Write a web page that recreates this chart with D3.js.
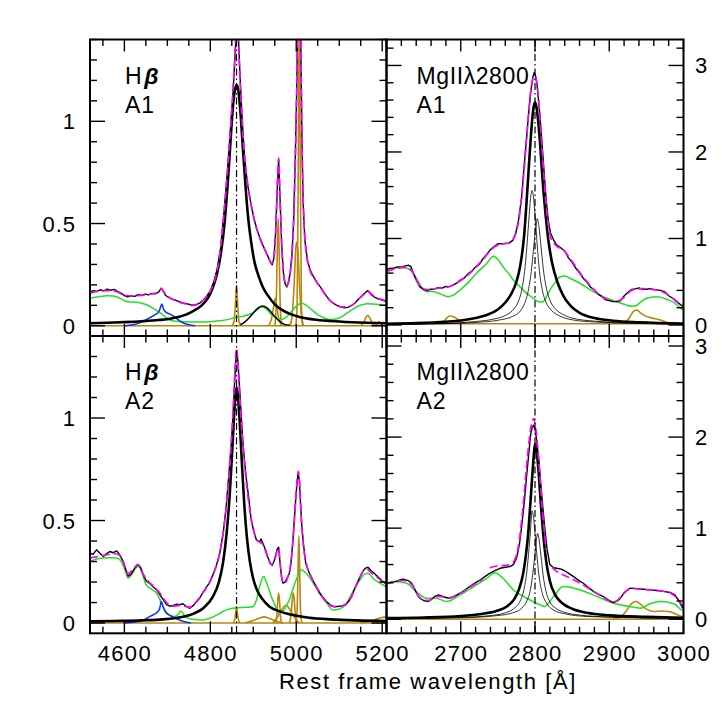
<!DOCTYPE html>
<html><head><meta charset="utf-8">
<script src="https://cdn.jsdelivr.net/npm/d3@7"></script>
<style>
body{margin:0;background:#fff}
svg{display:block}
text{font-family:"Liberation Sans",Arial,sans-serif;fill:#000}
</style>
</head><body>
<svg id="chart" width="722" height="722"></svg>
<script>
// ---------------- DATA: [wavelength (Å), flux] ----------------
// Hβ A1
const hbA1_obs = [[4520,0.165],[4528,0.172],[4536,0.168],[4544,0.176],[4552,0.171],[4560,0.179],[4568,0.174],[4576,0.178],[4584,0.168],[4592,0.160],[4600,0.148],[4608,0.141],[4616,0.147],[4624,0.144],[4632,0.152],[4640,0.148],[4648,0.155],[4656,0.151],[4664,0.158],[4672,0.156],[4680,0.166],[4686,0.184],[4690,0.170],[4696,0.148],[4704,0.138],[4712,0.130],[4720,0.124],[4728,0.118],[4736,0.112],[4744,0.108],[4752,0.104],[4760,0.101],[4768,0.104],[4776,0.112],[4784,0.126],[4792,0.146],[4800,0.172],[4808,0.214],[4816,0.278],[4824,0.380],[4832,0.560],[4840,0.760],[4846,0.940],[4852,1.110],[4856,1.260],[4860,1.420],[4863,1.520],[4866,1.380],[4870,1.180],[4875,0.980],[4880,0.820],[4886,0.700],[4892,0.625],[4898,0.560],[4904,0.505],[4910,0.462],[4916,0.425],[4922,0.395],[4928,0.368],[4934,0.340],[4940,0.312],[4944,0.298],[4948,0.330],[4952,0.460],[4956,0.680],[4959,0.810],[4962,0.640],[4966,0.400],[4970,0.260],[4974,0.205],[4978,0.190],[4982,0.215],[4986,0.260],[4990,0.350],[4994,0.520],[4998,0.850],[5001,1.150],[5004,1.600],[5007,2.100],[5010,1.500],[5013,0.950],[5016,0.600],[5020,0.420],[5026,0.320],[5032,0.275],[5040,0.240],[5048,0.212],[5056,0.190],[5064,0.165],[5072,0.140],[5080,0.120],[5088,0.108],[5096,0.098],[5104,0.092],[5112,0.088],[5120,0.090],[5128,0.098],[5136,0.110],[5144,0.128],[5152,0.145],[5160,0.160],[5166,0.172],[5170,0.165],[5176,0.148],[5184,0.138],[5192,0.130],[5200,0.126],[5210,0.118]];
const hbA1_model = [[4520,0.160],[4540,0.168],[4560,0.172],[4580,0.168],[4600,0.150],[4620,0.146],[4640,0.150],[4660,0.154],[4680,0.166],[4686,0.180],[4692,0.165],[4705,0.138],[4720,0.122],[4740,0.108],[4760,0.100],[4775,0.110],[4790,0.140],[4800,0.170],[4810,0.222],[4820,0.320],[4830,0.510],[4840,0.760],[4848,1.000],[4854,1.200],[4858,1.360],[4861,1.520],[4864,1.450],[4868,1.260],[4874,1.000],[4880,0.820],[4888,0.680],[4896,0.580],[4905,0.495],[4915,0.430],[4925,0.380],[4935,0.335],[4942,0.305],[4947,0.320],[4952,0.450],[4956,0.700],[4959,0.820],[4962,0.650],[4966,0.400],[4971,0.240],[4976,0.195],[4981,0.205],[4986,0.260],[4991,0.380],[4996,0.650],[5001,1.150],[5004,1.700],[5007,2.200],[5010,1.600],[5013,0.950],[5017,0.560],[5022,0.380],[5030,0.285],[5045,0.222],[5060,0.175],[5075,0.130],[5090,0.105],[5105,0.092],[5120,0.092],[5135,0.108],[5150,0.140],[5160,0.158],[5166,0.168],[5172,0.160],[5185,0.138],[5200,0.128],[5210,0.122]];
const hbA1_broad = [[4520,0.012],[4560,0.015],[4600,0.018],[4640,0.022],[4680,0.028],[4710,0.036],[4740,0.052],[4760,0.072],[4780,0.100],[4795,0.138],[4805,0.182],[4815,0.250],[4825,0.360],[4833,0.500],[4840,0.680],[4846,0.870],[4851,1.030],[4855,1.120],[4858,1.160],[4861,1.177],[4864,1.165],[4867,1.120],[4871,1.020],[4876,0.860],[4882,0.680],[4888,0.530],[4895,0.410],[4903,0.310],[4912,0.245],[4922,0.190],[4935,0.145],[4950,0.105],[4965,0.080],[4985,0.058],[5010,0.042],[5040,0.031],[5080,0.023],[5130,0.017],[5210,0.012]];
const hbA1_bump = [[4870,0.005],[4880,0.018],[4890,0.038],[4900,0.062],[4910,0.085],[4921,0.097],[4932,0.088],[4942,0.065],[4952,0.040],[4962,0.020],[4972,0.007],[4985,0.002]];
const hbA1_feii = [[4520,0.134],[4540,0.142],[4560,0.147],[4575,0.146],[4590,0.134],[4605,0.119],[4620,0.116],[4636,0.113],[4650,0.104],[4665,0.088],[4680,0.068],[4695,0.044],[4706,0.028],[4720,0.022],[4740,0.020],[4760,0.018],[4780,0.018],[4800,0.020],[4820,0.024],[4840,0.030],[4857,0.040],[4875,0.046],[4890,0.055],[4905,0.072],[4915,0.088],[4921,0.092],[4930,0.083],[4942,0.055],[4953,0.040],[4965,0.030],[4975,0.040],[4985,0.060],[4995,0.085],[5005,0.104],[5012,0.110],[5022,0.102],[5035,0.080],[5050,0.055],[5065,0.038],[5080,0.030],[5095,0.034],[5110,0.050],[5125,0.072],[5140,0.092],[5155,0.104],[5165,0.108],[5180,0.106],[5195,0.104],[5210,0.100]];
const hbA1_heii = [[4600,0.0],[4620,0.005],[4640,0.018],[4655,0.035],[4670,0.052],[4680,0.068],[4684,0.090],[4687,0.107],[4691,0.082],[4696,0.068],[4705,0.058],[4715,0.046],[4725,0.030],[4735,0.016],[4748,0.006],[4765,0.0]];
const hbA1_narrow = [
  [[4520,0],[5210,0]],
  [[4850,0],[4855,0.02],[4858,0.09],[4861,0.20],[4864,0.09],[4867,0.02],[4872,0]],
  [[4935,0],[4942,0.03],[4947,0.09],[4951,0.134],[4955,0.09],[4960,0.03],[4967,0]],
  [[4950,0],[4953,0.08],[4956,0.38],[4958,0.525],[4960,0.38],[4963,0.08],[4966,0]],
  [[4985,0],[4990,0.04],[4995,0.20],[4999,0.38],[5001,0.41],[5004,0.36],[5008,0.18],[5012,0.05],[5017,0]],
  [[4999,0],[5002,0.10],[5005,0.90],[5007,1.60],[5009,0.90],[5012,0.10],[5015,0]],
  [[5150,0],[5158,0.02],[5163,0.045],[5167,0.05],[5172,0.035],[5178,0.01],[5185,0]],
  [[5185,0],[5190,0.015],[5193,0.02],[5197,0.012],[5202,0]]
];

// Hβ A2
const hbA2_obs = [[4520,0.341],[4527,0.335],[4535,0.357],[4543,0.340],[4551,0.325],[4558,0.338],[4566,0.349],[4574,0.343],[4582,0.352],[4590,0.330],[4597,0.300],[4603,0.262],[4609,0.228],[4616,0.240],[4624,0.268],[4632,0.285],[4638,0.270],[4644,0.235],[4651,0.205],[4658,0.195],[4666,0.178],[4675,0.162],[4682,0.140],[4690,0.115],[4698,0.090],[4706,0.082],[4714,0.086],[4722,0.092],[4729,0.090],[4736,0.094],[4744,0.082],[4752,0.072],[4760,0.085],[4768,0.104],[4775,0.121],[4783,0.150],[4791,0.175],[4798,0.196],[4806,0.235],[4814,0.280],[4822,0.341],[4830,0.440],[4837,0.569],[4843,0.720],[4849,0.879],[4853,1.020],[4856,1.155],[4859,1.270],[4861,1.326],[4864,1.280],[4868,1.150],[4872,1.010],[4876,0.879],[4880,0.780],[4884,0.700],[4890,0.600],[4895,0.504],[4901,0.450],[4907,0.406],[4914,0.395],[4918,0.410],[4922,0.390],[4928,0.360],[4934,0.320],[4940,0.290],[4944,0.282],[4948,0.300],[4952,0.330],[4956,0.362],[4959,0.370],[4962,0.300],[4966,0.220],[4969,0.195],[4973,0.198],[4978,0.215],[4984,0.243],[4988,0.300],[4992,0.400],[4996,0.520],[5000,0.640],[5004,0.732],[5007,0.700],[5010,0.580],[5013,0.471],[5017,0.380],[5022,0.292],[5030,0.245],[5038,0.211],[5046,0.180],[5054,0.150],[5061,0.129],[5070,0.105],[5078,0.090],[5085,0.082],[5092,0.080],[5100,0.082],[5108,0.085],[5115,0.090],[5122,0.105],[5130,0.135],[5138,0.178],[5146,0.215],[5154,0.248],[5161,0.268],[5167,0.272],[5174,0.255],[5180,0.245],[5185,0.235],[5192,0.222],[5200,0.205],[5210,0.190]];
const hbA2_model = [[4520,0.318],[4540,0.325],[4560,0.334],[4580,0.338],[4595,0.315],[4608,0.240],[4620,0.262],[4632,0.286],[4642,0.245],[4655,0.205],[4670,0.175],[4685,0.140],[4698,0.100],[4712,0.082],[4728,0.086],[4740,0.082],[4752,0.078],[4765,0.098],[4780,0.140],[4795,0.185],[4810,0.255],[4822,0.340],[4832,0.470],[4840,0.630],[4848,0.860],[4854,1.080],[4858,1.260],[4861,1.340],[4864,1.280],[4868,1.120],[4874,0.920],[4880,0.770],[4888,0.610],[4896,0.500],[4905,0.420],[4914,0.395],[4922,0.385],[4932,0.330],[4942,0.285],[4950,0.310],[4956,0.355],[4959,0.362],[4963,0.280],[4968,0.205],[4974,0.195],[4980,0.222],[4986,0.270],[4992,0.390],[4998,0.580],[5002,0.700],[5005,0.740],[5008,0.680],[5012,0.500],[5017,0.370],[5024,0.285],[5035,0.225],[5050,0.165],[5065,0.115],[5080,0.085],[5095,0.078],[5110,0.086],[5125,0.115],[5140,0.185],[5155,0.250],[5165,0.262],[5175,0.245],[5190,0.220],[5210,0.180]];
const hbA2_broad = [[4520,0.008],[4580,0.010],[4640,0.013],[4690,0.018],[4730,0.028],[4760,0.045],[4785,0.075],[4805,0.125],[4820,0.200],[4830,0.300],[4838,0.440],[4845,0.620],[4850,0.800],[4854,0.960],[4857,1.070],[4859,1.120],[4861,1.148],[4863,1.130],[4866,1.060],[4870,0.920],[4874,0.760],[4879,0.580],[4885,0.420],[4892,0.300],[4900,0.215],[4910,0.155],[4922,0.115],[4938,0.080],[4960,0.058],[4990,0.040],[5030,0.026],[5080,0.018],[5140,0.013],[5210,0.010]];
const hbA2_feii = [[4520,0.300],[4535,0.312],[4551,0.317],[4566,0.318],[4582,0.317],[4593,0.300],[4602,0.255],[4609,0.219],[4618,0.240],[4628,0.272],[4634,0.276],[4642,0.240],[4651,0.186],[4663,0.165],[4675,0.146],[4686,0.100],[4698,0.048],[4710,0.035],[4718,0.032],[4726,0.045],[4731,0.059],[4737,0.045],[4745,0.025],[4760,0.018],[4780,0.015],[4800,0.025],[4820,0.045],[4837,0.064],[4861,0.075],[4885,0.077],[4899,0.079],[4907,0.110],[4915,0.180],[4924,0.227],[4932,0.190],[4942,0.130],[4952,0.080],[4960,0.050],[4970,0.060],[4984,0.115],[4998,0.200],[5012,0.260],[5022,0.245],[5038,0.200],[5055,0.140],[5070,0.100],[5085,0.064],[5100,0.068],[5115,0.090],[5130,0.146],[5145,0.200],[5160,0.240],[5167,0.243],[5180,0.215],[5195,0.195],[5210,0.175]];
const hbA2_heii = [[4600,0.0],[4625,0.005],[4645,0.015],[4662,0.035],[4675,0.050],[4682,0.070],[4686,0.105],[4690,0.080],[4696,0.055],[4708,0.035],[4722,0.020],[4738,0.008],[4755,0.0]];
const hbA2_narrow = [
  [[4520,0],[5210,0]],
  [[4853,0],[4857,0.02],[4859,0.05],[4861,0.08],[4863,0.05],[4865,0.02],[4869,0]],
  [[4880,0],[4900,0.012],[4915,0.025],[4925,0.030],[4938,0.022],[4955,0.008],[4970,0]],
  [[4945,0],[4955,0.025],[4965,0.060],[4976,0.087],[4987,0.060],[4997,0.025],[5007,0]],
  [[4952,0],[4955,0.04],[4957,0.11],[4959,0.146],[4961,0.11],[4963,0.04],[4966,0]],
  [[4984,0],[4988,0.04],[4991,0.12],[4993,0.146],[4995,0.12],[4998,0.04],[5002,0]],
  [[4999,0],[5002,0.06],[5004,0.25],[5006,0.426],[5008,0.25],[5010,0.06],[5013,0]],
  [[5150,0],[5175,0.010],[5195,0.025],[5210,0.030]]
];

// MgII A1
const mgA1_obs = [[2600,0.640],[2605,0.655],[2610,0.658],[2615,0.672],[2620,0.668],[2625,0.684],[2630,0.690],[2633,0.676],[2636,0.600],[2640,0.520],[2645,0.440],[2650,0.412],[2655,0.398],[2660,0.414],[2665,0.418],[2670,0.432],[2675,0.428],[2680,0.446],[2685,0.444],[2690,0.465],[2695,0.488],[2700,0.522],[2705,0.546],[2710,0.594],[2715,0.622],[2720,0.672],[2725,0.702],[2730,0.766],[2735,0.816],[2740,0.872],[2745,0.906],[2750,0.940],[2755,0.938],[2760,0.944],[2765,0.946],[2770,0.978],[2774,1.060],[2778,1.220],[2782,1.479],[2785,1.800],[2788,2.100],[2791,2.400],[2794,2.680],[2797,2.860],[2799,2.920],[2801,2.870],[2803,2.760],[2806,2.480],[2809,2.150],[2812,1.800],[2815,1.450],[2818,1.200],[2821,1.060],[2825,0.985],[2829,0.926],[2833,0.904],[2837,0.876],[2841,0.844],[2845,0.776],[2850,0.724],[2855,0.656],[2860,0.604],[2865,0.541],[2870,0.494],[2875,0.436],[2880,0.404],[2885,0.356],[2890,0.328],[2895,0.292],[2900,0.282],[2905,0.270],[2910,0.272],[2915,0.280],[2920,0.336],[2925,0.378],[2930,0.410],[2935,0.418],[2940,0.428],[2945,0.412],[2950,0.414],[2955,0.420],[2960,0.410],[2965,0.406],[2970,0.398],[2975,0.382],[2980,0.338],[2985,0.312],[2990,0.272],[2995,0.242],[3000,0.205]];
const mgA1_model = [[2600,0.620],[2615,0.655],[2628,0.670],[2636,0.600],[2645,0.450],[2655,0.410],[2670,0.425],[2685,0.445],[2700,0.515],[2715,0.620],[2730,0.760],[2745,0.900],[2755,0.935],[2765,0.945],[2772,1.010],[2778,1.200],[2784,1.650],[2790,2.300],[2795,2.750],[2799,2.880],[2802,2.820],[2806,2.480],[2811,1.850],[2816,1.300],[2821,1.020],[2828,0.920],[2838,0.870],[2848,0.760],[2860,0.610],[2875,0.450],[2890,0.330],[2900,0.290],[2906,null],[2912,0.275],[2920,0.320],[2930,0.400],[2945,0.420],[2960,0.410],[2975,0.370],[2990,0.280],[3000,0.220]];
const mgA1_broad = [[2600,0.015],[2640,0.022],[2680,0.038],[2700,0.052],[2720,0.080],[2735,0.115],[2750,0.180],[2760,0.260],[2768,0.360],[2775,0.500],[2780,0.680],[2785,1.000],[2790,1.600],[2793,2.000],[2796,2.350],[2798,2.510],[2800,2.574],[2802,2.520],[2804,2.380],[2807,2.080],[2810,1.700],[2814,1.300],[2818,0.980],[2823,0.720],[2830,0.500],[2838,0.340],[2848,0.220],[2860,0.140],[2880,0.080],[2905,0.050],[2940,0.032],[3000,0.018]];
const mgA1_compA = [[2600,0.008],[2680,0.020],[2720,0.040],[2745,0.070],[2760,0.110],[2770,0.170],[2777,0.260],[2782,0.400],[2786,0.620],[2789,0.900],[2792,1.250],[2794,1.460],[2796,1.556],[2798,1.480],[2800,1.280],[2803,0.920],[2806,0.620],[2810,0.400],[2815,0.260],[2822,0.170],[2832,0.110],[2850,0.060],[2880,0.035],[2940,0.018],[3000,0.010]];
const mgA1_compB = [[2600,0.006],[2680,0.015],[2720,0.030],[2750,0.055],[2770,0.100],[2780,0.160],[2786,0.250],[2791,0.400],[2795,0.620],[2798,0.880],[2801,1.120],[2803,1.230],[2805,1.160],[2808,0.920],[2811,0.660],[2815,0.440],[2820,0.290],[2827,0.190],[2836,0.130],[2850,0.080],[2880,0.045],[2940,0.022],[3000,0.012]];
const mgA1_feii = [[2600,0.642],[2609,0.660],[2618,0.665],[2627,0.660],[2636,0.600],[2645,0.470],[2649,0.410],[2655,0.385],[2662,0.388],[2670,0.368],[2678,0.340],[2683,0.327],[2690,0.345],[2699,0.404],[2710,0.490],[2721,0.596],[2735,0.711],[2744,0.796],[2750,0.760],[2757,0.673],[2764,0.600],[2771,0.519],[2780,0.440],[2789,0.365],[2796,0.320],[2802,0.281],[2807,0.265],[2811,0.269],[2815,0.320],[2820,0.404],[2827,0.490],[2834,0.557],[2840,0.566],[2847,0.540],[2861,0.480],[2872,0.420],[2883,0.365],[2895,0.315],[2906,0.281],[2915,0.255],[2923,0.230],[2930,0.218],[2935,0.219],[2941,0.255],[2946,0.290],[2955,0.318],[2964,0.327],[2973,0.310],[2982,0.281],[2990,0.240],[2998,0.185],[3000,0.178]];
const mgA1_gold = [
  [[2600,0.015],[3000,0.015]],
  [[2670,0.015],[2678,0.050],[2685,0.105],[2692,0.090],[2700,0.040],[2706,0.015]],
  [[2918,0.015],[2926,0.070],[2933,0.160],[2937,0.173],[2942,0.140],[2950,0.100],[2960,0.075],[2968,0.060],[2976,0.035],[2984,0.015]]
];

// MgII A2
const mgA2_obs = [[2600,0.395],[2605,0.402],[2609,0.413],[2614,0.418],[2618,0.432],[2622,0.439],[2626,0.430],[2630,0.420],[2634,0.395],[2638,0.330],[2642,0.262],[2645,0.230],[2650,0.205],[2656,0.194],[2660,0.215],[2665,0.250],[2670,0.267],[2675,0.252],[2680,0.238],[2685,0.230],[2690,0.248],[2695,0.268],[2699,0.285],[2705,0.318],[2712,0.358],[2719,0.396],[2726,0.430],[2733,0.470],[2739,0.504],[2746,0.532],[2753,0.559],[2760,0.570],[2766,0.577],[2771,0.600],[2775,0.668],[2779,0.820],[2782,1.015],[2786,1.320],[2789,1.601],[2792,1.850],[2794,2.021],[2796,2.100],[2798,2.130],[2800,2.090],[2802,1.980],[2805,1.760],[2807,1.564],[2810,1.280],[2813,1.015],[2816,0.780],[2820,0.600],[2825,0.565],[2829,0.560],[2834,0.552],[2838,0.540],[2845,0.505],[2852,0.467],[2858,0.432],[2865,0.395],[2872,0.348],[2879,0.303],[2885,0.276],[2892,0.249],[2898,0.215],[2905,0.183],[2910,0.195],[2914,0.220],[2920,0.290],[2928,0.340],[2935,0.338],[2946,0.329],[2955,0.322],[2964,0.315],[2973,0.305],[2982,0.293],[2988,0.270],[2994,0.200],[2998,0.135],[3000,0.120]];
const mgA2_model = [[2600,0.390],[2610,0.410],[2622,0.425],[2634,0.380],[2645,0.235],[2656,0.205],[2670,0.250],[2685,0.235],[2700,0.285],[2715,0.365],[2730,0.440],[2735,null],[2739,0.565],[2750,0.585],[2760,0.590],[2766,0.600],[2772,0.640],[2778,0.820],[2784,1.250],[2790,1.800],[2795,2.130],[2798,2.200],[2801,2.100],[2805,1.750],[2810,1.200],[2815,0.760],[2818,null],[2823,0.570],[2830,0.520],[2840,0.480],[2850,0.440],[2860,0.400],[2870,0.350],[2880,0.300],[2892,0.240],[2903,0.190],[2910,0.200],[2918,0.270],[2928,0.335],[2940,0.330],[2955,0.322],[2970,0.310],[2982,0.290],[2992,0.220],[3000,0.140]];
const mgA2_broad = [[2600,0.012],[2650,0.018],[2700,0.035],[2730,0.060],[2750,0.095],[2762,0.140],[2772,0.220],[2779,0.340],[2784,0.500],[2788,0.720],[2791,0.960],[2794,1.300],[2797,1.650],[2799,1.860],[2800,1.922],[2802,1.860],[2805,1.600],[2808,1.250],[2811,0.940],[2815,0.640],[2820,0.420],[2827,0.270],[2836,0.180],[2850,0.115],[2870,0.070],[2900,0.042],[2950,0.025],[3000,0.015]];
const mgA2_compA = [[2600,0.006],[2700,0.020],[2740,0.040],[2760,0.070],[2772,0.120],[2780,0.200],[2785,0.320],[2789,0.520],[2792,0.780],[2794,0.980],[2796,1.190],[2798,1.120],[2800,0.950],[2803,0.660],[2806,0.440],[2810,0.280],[2816,0.170],[2825,0.100],[2840,0.060],[2870,0.030],[2940,0.015],[3000,0.008]];
const mgA2_compB = [[2600,0.005],[2700,0.015],[2750,0.040],[2770,0.070],[2782,0.120],[2789,0.200],[2794,0.330],[2797,0.500],[2800,0.720],[2802,0.880],[2803.5,0.943],[2805,0.900],[2808,0.700],[2811,0.480],[2815,0.300],[2820,0.190],[2828,0.120],[2840,0.075],[2860,0.045],[2900,0.025],[3000,0.010]];
const mgA2_feii = [[2600,0.395],[2613,0.410],[2627,0.395],[2640,0.303],[2654,0.230],[2667,0.230],[2681,0.194],[2699,0.267],[2721,0.376],[2735,0.449],[2746,0.511],[2757,0.449],[2771,0.321],[2789,0.230],[2807,0.157],[2813,0.139],[2825,0.249],[2838,0.358],[2861,0.321],[2883,0.250],[2906,0.176],[2933,0.132],[2942,0.121],[2955,0.170],[2969,0.194],[2987,0.170],[2998,0.100],[3000,0.095]];
const mgA2_gold = [
  [[2600,0],[3000,0]],
  [[2905,0],[2914,0.020],[2922,0.080],[2930,0.170],[2936,0.194],[2942,0.165],[2950,0.110],[2960,0.085],[2970,0.090],[2980,0.085],[2990,0.055],[3000,0.020]]
];

// Axis / label texts
const xTicksHb = [4600, 4800, 5000, 5200];
const xTicksMg = [2700, 2800, 2900, 3000];
const yTicksHb = [0, 0.5, 1];
const yTicksMg = [0, 1, 2, 3];
const lineLabels = ["Hβ", "MgIIλ2800"];
const objLabels = ["A1", "A2"];
const xTitle = "Rest frame wavelength [Å]";
const restHb = 4861, restMg = 2800;

// ---------------- DRAWING ----------------
const svg = d3.select("#chart");
const L = 90, M = 386.5, R = 683.5, T = 39.5, Mid = 336, B = 633.3;
const C = {obs:"#000", model:"#ff00ff", feii:"#22e022", heii:"#1030e8", gold:"#b8860b"};

const panels = [
  {id:"tl", x0:L, x1:M, y0:T, y1:Mid, xd:[4520,5210], yd:[-0.05,1.4], kind:"hb", side:"left",
   obs:hbA1_obs, model:hbA1_model, broad:hbA1_broad, extra:[hbA1_bump], feii:hbA1_feii, heii:hbA1_heii, gold:hbA1_narrow, thin:[], rest:restHb, obj:0, xlab:false},
  {id:"bl", x0:L, x1:M, y0:Mid, y1:B, xd:[4520,5210], yd:[-0.05,1.4], kind:"hb", side:"left",
   obs:hbA2_obs, model:hbA2_model, broad:hbA2_broad, extra:[], feii:hbA2_feii, heii:hbA2_heii, gold:hbA2_narrow, thin:[], rest:restHb, obj:1, xlab:true},
  {id:"tr", x0:M, x1:R, y0:T, y1:Mid, xd:[2600,3000], yd:[-0.127,3.3], kind:"mg", side:"right",
   obs:mgA1_obs, model:mgA1_model, broad:mgA1_broad, extra:[], feii:mgA1_feii, heii:null, gold:mgA1_gold, thin:[mgA1_compA,mgA1_compB], rest:restMg, obj:0, xlab:false},
  {id:"br", x0:M, x1:R, y0:Mid, y1:B, xd:[2600,3000], yd:[-0.155,3.11], kind:"mg", side:"right",
   obs:mgA2_obs, model:mgA2_model, broad:mgA2_broad, extra:[], feii:mgA2_feii, heii:null, gold:mgA2_gold, thin:[mgA2_compA,mgA2_compB], rest:restMg, obj:1, xlab:true}
];

const defs = svg.append("defs");

panels.forEach(p => {
  const x = d3.scaleLinear().domain(p.xd).range([p.x0, p.x1]);
  const y = d3.scaleLinear().domain(p.yd).range([p.y1, p.y0]);
  defs.append("clipPath").attr("id","clip-"+p.id).append("rect")
    .attr("x",p.x0).attr("y",p.y0).attr("width",p.x1-p.x0).attr("height",p.y1-p.y0);
  const g = svg.append("g").attr("clip-path","url(#clip-"+p.id+")");
  const smooth = d3.line().defined(d=>d[1]!=null).x(d=>x(d[0])).y(d=>y(d[1])).curve(d3.curveMonotoneX);
  const raw = d3.line().defined(d=>d[1]!=null).x(d=>x(d[0])).y(d=>y(d[1]));
  const draw = (data, gen, color, w, dash) => {
    const path = g.append("path").datum(data).attr("d",gen).attr("fill","none")
      .attr("stroke",color).attr("stroke-width",w).attr("stroke-linejoin","round");
    if (dash) path.attr("stroke-dasharray",dash);
  };
  p.gold.forEach(s => draw(s, smooth, C.gold, 1.6));
  draw(p.feii, smooth, C.feii, 1.5);
  if (p.heii) draw(p.heii, smooth, C.heii, 1.5);
  p.thin.forEach(s => draw(s, smooth, "#000", 0.8));
  p.extra.forEach(s => draw(s, smooth, "#000", 1.5));
  draw(p.broad, smooth, "#000", 2.6);
  draw(p.obs, raw, C.obs, 1.4);
  draw(p.model, smooth, C.model, 1.7, "8,4");
  // rest-frame dash-dot line
  g.append("line").attr("x1",x(p.rest)).attr("x2",x(p.rest)).attr("y1",p.y0).attr("y2",p.y1)
    .attr("stroke","#000").attr("stroke-width",1.2).attr("stroke-dasharray","7,3,1.5,3");

  // ticks
  const ax = svg.append("g").attr("stroke","#000").attr("stroke-width",1.4);
  const xMajor = p.kind==="hb" ? d3.range(4600, 5201, 200) : d3.range(2600, 3001, 100);
  const xMinor = p.kind==="hb" ? d3.range(4550, 5210, 50) : d3.range(2600, 3001, 20);
  const yMajStep = p.kind==="hb" ? 0.5 : 1, yMinStep = p.kind==="hb" ? 0.1 : 0.2;
  const yMinor = d3.range(Math.ceil(p.yd[0]/yMinStep)*yMinStep, p.yd[1]+1e-9, yMinStep);
  const isMaj = (v, step) => Math.abs(v/step - Math.round(v/step)) < 1e-6;
  const maj = 12, mnr = 6.5;
  xMinor.forEach(v => {
    const len = xMajor.some(m=>Math.abs(m-v)<1e-6) ? maj : mnr;
    const xx = x(v);
    if (xx < p.x0-0.5 || xx > p.x1+0.5) return;
    ax.append("line").attr("x1",xx).attr("x2",xx).attr("y1",p.y1).attr("y2",p.y1-len);
    ax.append("line").attr("x1",xx).attr("x2",xx).attr("y1",p.y0).attr("y2",p.y0+len);
  });
  yMinor.forEach(v => {
    const len = isMaj(v, yMajStep) ? 15 : 7;
    const yy = y(v);
    ax.append("line").attr("x1",p.x0).attr("x2",p.x0+len).attr("y1",yy).attr("y2",yy);
    ax.append("line").attr("x1",p.x1).attr("x2",p.x1-len).attr("y1",yy).attr("y2",yy);
  });
  // frame
  svg.append("rect").attr("x",p.x0).attr("y",p.y0).attr("width",p.x1-p.x0).attr("height",p.y1-p.y0)
    .attr("fill","none").attr("stroke","#000").attr("stroke-width",2);

  // y tick labels
  const yt = p.kind==="hb" ? yTicksHb : yTicksMg;
  yt.forEach(v => {
    const t = svg.append("text").attr("y", y(v)+8).attr("font-size",22).attr("letter-spacing",1)
      .text(String(v));
    if (p.side==="left") t.attr("x", 76).attr("text-anchor","end");
    else t.attr("x", 695).attr("text-anchor","start");
  });
  // x tick labels
  if (p.xlab) {
    const xt = p.kind==="hb" ? xTicksHb : xTicksMg;
    xt.forEach(v => {
      svg.append("text").attr("x", x(v)+0.5).attr("y", 661).attr("font-size",22)
        .attr("letter-spacing",1.3).attr("text-anchor","middle").text(String(v));
    });
  }
  // panel labels
  const lx = p.x0 + (p.kind==="hb" ? 35 : 30);
  const ly = p.y0 + 44;
  const t1 = svg.append("text").attr("x",lx).attr("y",ly).attr("font-size",23).attr("letter-spacing",0.6);
  if (p.kind==="hb") {
    t1.append("tspan").text(lineLabels[0].charAt(0));
    t1.append("tspan").attr("font-weight","bold").attr("font-style","italic").attr("dx",2).text(lineLabels[0].slice(1));
  } else {
    t1.text(lineLabels[1]);
  }
  svg.append("text").attr("x",lx).attr("y",ly+29).attr("font-size",23).attr("letter-spacing",1).text(objLabels[p.obj]);
});

svg.append("text").attr("x", 428).attr("y", 689).attr("font-size",22).attr("letter-spacing",1.6)
  .attr("text-anchor","middle").text(xTitle);
</script>
</body></html>
